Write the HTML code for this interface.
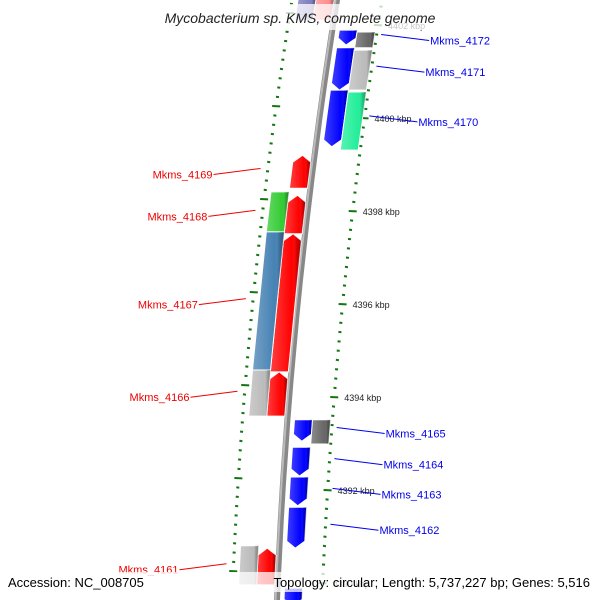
<!DOCTYPE html>
<html><head><meta charset="utf-8"><style>
html,body{margin:0;padding:0;background:#fff}
svg{display:block}
text{font-family:"Liberation Sans","DejaVu Sans",sans-serif}
</style></head><body>
<svg id="chart" width="600" height="600" viewBox="0 0 600 600" xmlns="http://www.w3.org/2000/svg">
<defs>
<linearGradient id="shade" x1="0" x2="1" y1="0" y2="0">
<stop offset="0" stop-color="#fff" stop-opacity="0.25"/>
<stop offset="0.7" stop-color="#fff" stop-opacity="0"/>
<stop offset="0.85" stop-color="#000" stop-opacity="0.15"/>
<stop offset="1" stop-color="#000" stop-opacity="0.35"/>
</linearGradient>
</defs>
<g id="ticks"></g>
<path id="backbone" fill="none" stroke="#888" stroke-width="6"/>
<path id="backbone2" fill="none" stroke="#bbb" stroke-width="2"/>
<g id="genes"></g>
<g id="labels"></g>
<rect x="140" y="4" width="320" height="26" fill="#fff" fill-opacity="0.75"/>
<text x="300" y="23" text-anchor="middle" font-size="14" font-style="italic" fill="#222">Mycobacterium sp. KMS, complete genome</text>
<rect x="0" y="572" width="600" height="20" fill="#fff" fill-opacity="0.75"/>
<text x="8" y="587" font-size="13" fill="#000">Accession: NC_008705</text>
<text x="590" y="587" font-size="13" text-anchor="end" fill="#000">Topology: circular; Length: 5,737,227 bp; Genes: 5,516</text>
</svg>
<script>
// gene data (kbp)
const geneNames = ["top-a","top-b","Mkms_4172","Mkms_4172b","Mkms_4171","Mkms_4171b","Mkms_4170","Mkms_4170b","Mkms_4169","Mkms_4168","Mkms_4168b","Mkms_4167","Mkms_4167b","Mkms_4166","Mkms_4166b","Mkms_4165","Mkms_4165b","Mkms_4164","Mkms_4163","Mkms_4162","Mkms_4161","Mkms_4161b","bottom-a"];
const geneStart = [4402.55,4402.55,4401.89,4401.85,4401.51,4401.46,4400.60,4400.56,4399.20,4398.34,4398.41,4397.51,4397.55,4394.54,4394.58,4393.51,4393.51,4392.92,4392.28,4391.63,4390.75,4390.80,4389.89];
const geneEnd   = [4402.10,4402.10,4401.57,4401.51,4400.60,4400.60,4399.38,4399.31,4398.49,4397.51,4397.55,4394.54,4394.58,4393.59,4393.59,4393.05,4392.99,4392.30,4391.66,4390.75,4389.96,4389.96,4389.50];
const geneLane  = [-2,-1,1,2,1,2,1,2,-1,-1,-2,-1,-2,-1,-2,1,2,1,1,1,-1,-2,1];
const geneDir   = ["none","none","down","none","down","none","down","none","up","up","none","up","none","up","none","down","none","down","down","down","up","none","down"];
const geneColor = ["#8080c0","#ff9090","#0000ff","#666666","#0000ff","#bbbbbb","#0000ff","#22ee99","#ff0000","#ff0000","#33cc33","#ff0000","#4682b4","#ff0000","#bbbbbb","#0000ff","#666666","#0000ff","#0000ff","#0000ff","#ff0000","#bbbbbb","#0000ff"];
// major tick labels
const majorKbp = [4402,4400,4398,4396,4394,4392,4390];
// gene labels
const labelText = ["Mkms_4172","Mkms_4171","Mkms_4170","Mkms_4169","Mkms_4168","Mkms_4167","Mkms_4166","Mkms_4165","Mkms_4164","Mkms_4163","Mkms_4162","Mkms_4161"];
const labelKbp  = [4401.73,4401.05,4399.98,4398.85,4397.95,4396.05,4394.06,4393.28,4392.61,4391.97,4391.20,4390.35];
const labelSide = [1,1,1,-1,-1,-1,-1,1,1,1,1,-1];

const NS="http://www.w3.org/2000/svg";
function yOf(k){return 118+(4400-k)*46.5;}
function bx(y){return 337-0.16*y+0.0001*y*y;}
function mk(tag,attrs,parent){const e=document.createElementNS(NS,tag);for(const a in attrs)e.setAttribute(a,attrs[a]);parent.appendChild(e);return e;}

// backbone
let d="";for(let y=-10;y<=610;y+=10){d+=(y===-10?"M":"L")+bx(y).toFixed(1)+","+y;}
document.getElementById("backbone").setAttribute("d",d);
let d2="";for(let y=-10;y<=610;y+=10){d2+=(y===-10?"M":"L")+(bx(y)-1.5).toFixed(1)+","+y;}
document.getElementById("backbone2").setAttribute("d",d2);

// ticks
const tg=document.getElementById("ticks");
for(let i=-20;i<=70;i++){
  const k=4404-i*0.2;
  const major=Math.abs(Math.round(k*5)%10)===0;
  [[1,0],[-1,-12]].forEach(([s,sh])=>{
    const y=yOf(k)+sh;if(y<-5||y>605)return;
    const x=bx(y)+s*45;const len=major?8:3;
    const t=mk("line",{x1:x-len/2,x2:x+len/2,y1:y,y2:y+0.4,stroke:"#117711","stroke-width":2},tg);
    
    
  });
}
majorKbp.forEach(k=>{
  const y=yOf(k);const x=bx(y)+55;
  const t=mk("text",{x:x,y:y+4,"font-size":9,fill:"#222"},tg);
  t.textContent=k+" kbp";
  
  
});

// genes
const gg=document.getElementById("genes");
geneNames.forEach((n,i)=>{
  const y1=yOf(geneStart[i]), y2=yOf(geneEnd[i]);
  const lane=geneLane[i];
  const o1 = lane>0 ? (lane===1?7:25) : (lane===-1?-21:-39);
  const o2 = o1+18;
  const L=y=>bx(y)+o1, R=y=>bx(y)+o2, M=y=>bx(y)+o1+9;
  let pts;const tip=7;
  if(geneDir[i]==="down") pts=[[L(y1),y1],[R(y1),y1],[R(y2-tip),y2-tip],[M(y2),y2],[L(y2-tip),y2-tip]];
  else if(geneDir[i]==="up") pts=[[M(y1),y1],[R(y1+tip),y1+tip],[R(y2),y2],[L(y2),y2],[L(y1+tip),y1+tip]];
  else pts=[[L(y1),y1],[R(y1),y1],[R(y2),y2],[L(y2),y2]];
  const ps=pts.map(p=>p[0].toFixed(1)+","+p[1].toFixed(1)).join(" ");
  const g=mk("g",{},gg);
  
  
  mk("polygon",{points:ps,fill:geneColor[i],stroke:"#fff","stroke-width":1},g);
  mk("polygon",{points:ps,fill:"url(#shade)"},g);
});

// labels
const lg=document.getElementById("labels");
labelText.forEach((t,i)=>{
  const y=yOf(labelKbp[i]);const s=labelSide[i];
  const col=s>0?"#0000ee":"#ee0000";
  const g=mk("g",{},lg);
  
  
  let x0,x1;
  if(s>0){x0=bx(y)+50;x1=x0+48;}else{x0=bx(y)-52;x1=x0-47;}
  mk("line",{x1:x0,y1:y-3,x2:x1,y2:y+3,stroke:col,"stroke-width":1},g);
  const tx=mk("text",{x:s>0?x1+1:x1-1,y:y+7,"font-size":11,fill:col,"text-anchor":s>0?"start":"end"},g);
  tx.textContent=t;
});
</script>
</body></html>
